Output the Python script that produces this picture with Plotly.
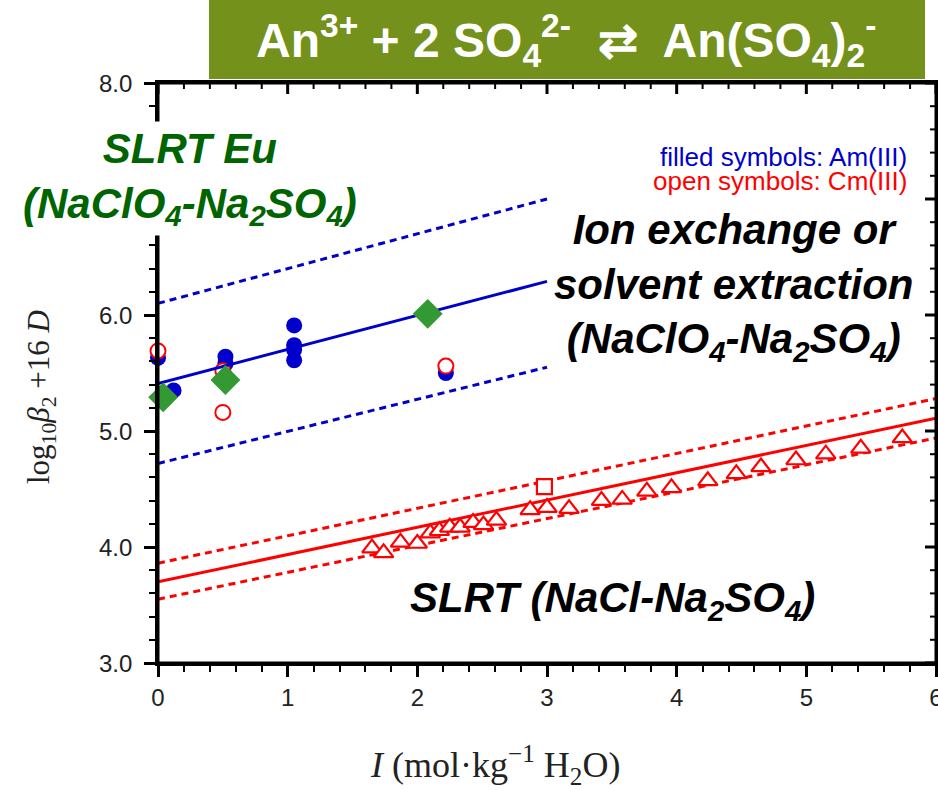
import plotly.graph_objects as go

# ---------------- data ----------------
am_x = [0.0, 0.12, 0.52, 0.52, 1.05, 1.05, 1.05, 1.05, 2.22]
am_y = [5.63, 5.35, 5.64, 5.58, 5.91, 5.74, 5.70, 5.61, 5.50]

cm_x = [0.0, 0.50, 0.50, 2.22]
cm_y = [5.69, 5.52, 5.16, 5.56]

eu_x = [0.04, 0.52, 2.08]
eu_y = [5.29, 5.44, 6.01]

sq_x = [2.98]
sq_y = [4.52]

tri_x = [1.65, 1.74, 1.87, 2.00, 2.10, 2.17, 2.25, 2.33, 2.43, 2.51, 2.61, 2.87, 3.00,
         3.17, 3.42, 3.58, 3.77, 3.96, 4.24, 4.46, 4.65, 4.92, 5.15, 5.42, 5.74]
tri_y = [3.99, 3.95, 4.04, 4.03, 4.12, 4.14, 4.17, 4.17, 4.21, 4.19, 4.23, 4.32, 4.34,
         4.33, 4.40, 4.41, 4.48, 4.51, 4.57, 4.63, 4.69, 4.75, 4.80, 4.85, 4.94]

blue_fit_x = [0, 3]
blue_fit_y = [5.41, 6.29]
blue_upper_y = [6.10, 7.00]
blue_lower_y = [4.72, 5.55]

red_fit_x = [0, 6]
red_fit_y = [3.70, 5.11]
red_upper_y = [3.86, 5.28]
red_lower_y = [3.55, 4.94]

x_ticks = [0, 1, 2, 3, 4, 5, 6]
y_ticks = [3, 4, 5, 6, 7, 8]
y_ticklabels = ["3.0", "4.0", "5.0", "6.0", "7.0", "8.0"]

BLUE = "#0000CC"
RED = "#FF0000"
GREEN_M = "#339933"
GREEN_T = "#006400"
OLIVE = "#73911B"
SANS = "Liberation Sans, Arial, sans-serif"
SERIF = "Liberation Serif, Times New Roman, serif"

X_RANGE = [0, 6]
Y_RANGE = [3, 8]
PLOT_W, PLOT_H = 778.0, 580.0
MAJ_LEN, MIN_LEN = 11, 6

fig = go.Figure()

# blue filled circles (Am)
fig.add_trace(go.Scatter(x=am_x, y=am_y, mode="markers",
                         marker=dict(symbol="circle", size=16, color=BLUE,
                                     line=dict(width=0)), cliponaxis=False))
# red open circles (Cm)
fig.add_trace(go.Scatter(x=cm_x, y=cm_y, mode="markers",
                         marker=dict(symbol="circle", size=15, color="white",
                                     line=dict(width=2, color=RED)), cliponaxis=False))
# blue lines
fig.add_trace(go.Scatter(x=blue_fit_x, y=blue_fit_y, mode="lines",
                         line=dict(color=BLUE, width=3)))
fig.add_trace(go.Scatter(x=blue_fit_x, y=blue_upper_y, mode="lines",
                         line=dict(color=BLUE, width=3, dash="7px,5px")))
fig.add_trace(go.Scatter(x=blue_fit_x, y=blue_lower_y, mode="lines",
                         line=dict(color=BLUE, width=3, dash="7px,5px")))
# red lines
fig.add_trace(go.Scatter(x=red_fit_x, y=red_fit_y, mode="lines",
                         line=dict(color=RED, width=3)))
fig.add_trace(go.Scatter(x=red_fit_x, y=red_upper_y, mode="lines",
                         line=dict(color=RED, width=3, dash="7px,5px")))
fig.add_trace(go.Scatter(x=red_fit_x, y=red_lower_y, mode="lines",
                         line=dict(color=RED, width=3, dash="7px,5px")))
# triangles and square (Cm, NaCl)
fig.add_trace(go.Scatter(x=tri_x, y=tri_y, mode="markers",
                         marker=dict(symbol="triangle-up", size=17, color="white",
                                     line=dict(width=2.2, color=RED))))
fig.add_trace(go.Scatter(x=sq_x, y=sq_y, mode="markers",
                         marker=dict(symbol="square", size=15, color="white",
                                     line=dict(width=2.2, color=RED))))
# green diamonds (Eu)
fig.add_trace(go.Scatter(x=eu_x, y=eu_y, mode="markers",
                         marker=dict(symbol="diamond", size=23, color=GREEN_M,
                                     line=dict(width=0)), cliponaxis=False))

tickfont = dict(family=SANS, size=24, color="#222222")

fig.update_layout(
    width=938, height=790,
    margin=dict(l=158, r=2, t=83, b=127, autoexpand=False),
    paper_bgcolor="white", plot_bgcolor="white",
    showlegend=False,
    xaxis=dict(range=X_RANGE, tickvals=x_ticks, ticktext=[str(v) for v in x_ticks],
               showgrid=False, zeroline=False, showline=True, mirror=True,
               linecolor="black", automargin=False,
               linewidth=3, ticks="outside", ticklen=MAJ_LEN, tickwidth=3,
               tickcolor="black", tickfont=tickfont, ticklabeloverflow="allow",
               minor=dict(dtick=0.2, tick0=0, ticks="outside", ticklen=MIN_LEN,
                          tickwidth=2, tickcolor="black")),
    yaxis=dict(range=Y_RANGE, tickvals=y_ticks, showticklabels=False,
               showgrid=False, zeroline=False, showline=True, mirror=True,
               linecolor="black", automargin=False,
               linewidth=3, ticks="outside", ticklen=MAJ_LEN, tickwidth=3,
               tickcolor="black",
               minor=dict(dtick=0.2, tick0=3, ticks="outside", ticklen=MIN_LEN,
                          tickwidth=2, tickcolor="black")),
)

# frame + inside ticks on top and right (paper coordinates)
def xp(v):
    return (v - X_RANGE[0]) / (X_RANGE[1] - X_RANGE[0])

def yp(v):
    return (v - Y_RANGE[0]) / (Y_RANGE[1] - Y_RANGE[0])

fig.add_shape(type="rect", xref="paper", yref="paper", x0=0, x1=1, y0=0, y1=1,
              line=dict(color="black", width=3), fillcolor="rgba(0,0,0,0)",
              layer="above")
x_minor = [round(i * 0.2, 1) for i in range(31)]
y_minor = [round(3 + i * 0.2, 1) for i in range(26)]
for v in x_minor:
    major = abs(v - round(v)) < 1e-9
    L = (MAJ_LEN if major else MIN_LEN) / PLOT_H
    fig.add_shape(type="line", xref="paper", yref="paper", x0=xp(v), x1=xp(v),
                  y0=1, y1=1 - L,
                  line=dict(color="black", width=3 if major else 2), layer="above")
for v in y_minor:
    major = abs(v - round(v)) < 1e-9
    L = (MAJ_LEN if major else MIN_LEN) / PLOT_W
    fig.add_shape(type="line", xref="paper", yref="paper", x0=1, x1=1 - L,
                  y0=yp(v), y1=yp(v),
                  line=dict(color="black", width=3 if major else 2), layer="above")

# helper for pixel -> paper coordinates
def px(xpx):
    return (xpx - 158) / PLOT_W

def py(ypx):
    return (663 - ypx) / PLOT_H

# y tick labels
for v, t in zip(y_ticks, y_ticklabels):
    fig.add_annotation(text=t, xref="paper", yref="y", x=px(134), y=v,
                       xanchor="right", yanchor="middle", showarrow=False,
                       font=tickfont)

# title box
fig.add_shape(type="rect", xref="paper", yref="paper",
              x0=px(209), x1=px(925), y0=py(79), y1=py(0),
              fillcolor=OLIVE, line=dict(width=0), layer="above")

annotations = [
    dict(text="<b>An<sup>3+</sup> + 2 SO<sub>4</sub><sup>2-</sup>  \u21c4  An(SO<sub>4</sub>)<sub>2</sub><sup>-</sup></b>",
         x=px(566), y=py(40), font=dict(family=SANS, size=48, color="white")),
    dict(text="<b><i>SLRT Eu<br>(NaClO<sub>4</sub>-Na<sub>2</sub>SO<sub>4</sub>)</i></b>",
         x=px(190), y=py(178), font=dict(family=SANS, size=42, color=GREEN_T),
         bgcolor="white", borderpad=3),
    dict(text="<b><i>Ion exchange or<br>solvent extraction<br>(NaClO<sub>4</sub>-Na<sub>2</sub>SO<sub>4</sub>)</i></b>",
         x=px(733), y=py(287), font=dict(family=SANS, size=42, color="black")),
    dict(text="<b><i>SLRT (NaCl-Na<sub>2</sub>SO<sub>4</sub>)</i></b>",
         x=px(612), y=py(600), font=dict(family=SANS, size=42, color="black")),
    dict(text="filled symbols: Am(III)", x=px(909), y=py(157), xanchor="right",
         font=dict(family=SANS, size=26, color=BLUE)),
    dict(text="open symbols: Cm(III)", x=px(909), y=py(181), xanchor="right",
         font=dict(family=SANS, size=26, color=RED)),
    dict(text="<i>I</i> (mol\u00b7kg<sup>\u22121</sup> H<sub>2</sub>O)",
         x=px(495), y=py(765), font=dict(family=SERIF, size=36, color="#222222")),
    dict(text="log<sub>10</sub><i>\u03b2</i><sub>2</sub> +16 <i>D</i>",
         x=px(41), y=py(397), textangle=-90,
         font=dict(family=SERIF, size=31, color="#222222")),
]
for a in annotations:
    a.setdefault("xanchor", "center")
    a.setdefault("yanchor", "middle")
    fig.add_annotation(xref="paper", yref="paper", showarrow=False, **a)

fig.write_html("out.html")
